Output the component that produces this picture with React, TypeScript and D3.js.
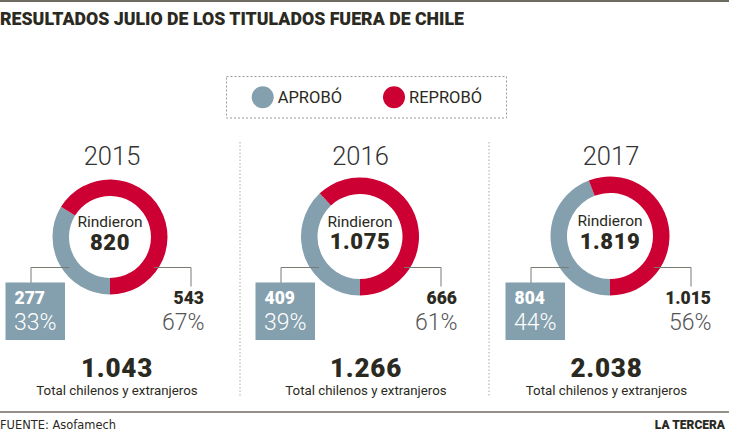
import React from "react";
import * as d3 from "d3";

const years = ["2015", "2016", "2017"];
const aprobo = [277, 409, 804];
const reprobo = [543, 666, 1015];
const rindieron = [820, 1075, 1819];
const totals = [1043, 1266, 2038];
const pctAprobo = [33, 39, 44];
const pctReprobo = [67, 61, 56];
const legendLabels = ["APROBÓ", "REPROBÓ"];

const title = "RESULTADOS JULIO DE LOS TITULADOS FUERA DE CHILE";
const source = "FUENTE: Asofamech";
const brand = "LA TERCERA";
const totalLabel = "Total chilenos y extranjeros";
const centerLabel = "Rindieron";

// layout (not data)
const W = 729, H = 433;
const GRAY = "#84a0ae";
const RED = "#cc0033";
const DARK = "#2b2a22";
const panelCx = [110, 360, 610];
const panelCy = [237, 236.5, 236];
const outerR = [57.5, 59, 59.5];
const ringW = 16.5;
const rightEdge = [94, 97, 101];
const totalCx = [117, 366, 606.5];
const yearCx = [112, 360.5, 611];

const loc = d3.formatLocale({ decimal: ",", thousands: ".", grouping: [3], currency: ["$", ""] });
const fmt = loc.format(",d");

const SANS = "Roboto, 'Open Sans', sans-serif";
const COND = "'Liberation Sans Narrow', 'DejaVu Sans Condensed', 'Noto Sans', sans-serif";

export default function App() {
  const pie = d3.pie<number>().sort(null).startAngle(Math.PI).endAngle(3 * Math.PI);
  const color = d3.scaleOrdinal<number, string>().domain([0, 1]).range([GRAY, RED]);
  const legendX = d3.scalePoint<string>().domain(legendLabels).range([262.7, 394]);

  return (
    <svg width={W} height={H} viewBox={`0 0 ${W} ${H}`}
      style={{ position: "absolute", left: 0, top: 0, display: "block", background: "#fff" }}>
      <rect x={0} y={0} width={W} height={H} fill="#fff" />
      <line x1={0} x2={W} y1={1} y2={1} stroke="#6e6b60" strokeWidth={2} />
      <text x={0} y={25} fontFamily={SANS} fontWeight={900} fontSize={18} fill={DARK}
        textLength={464} lengthAdjust="spacingAndGlyphs">{title}</text>

      {/* legend */}
      <rect x={226.5} y={76.5} width={280} height={41.5} fill="none" stroke="#9a9a9a"
        strokeWidth={1} strokeDasharray="2,2" />
      {legendLabels.map((l, i) => (
        <g key={l}>
          <circle cx={legendX(l)} cy={97.3} r={11} fill={color(i)} />
          <text x={(legendX(l) as number) + 15} y={103.3} fontFamily={SANS} fontSize={16.5}
            fontWeight={400} fill={DARK}>{l}</text>
        </g>
      ))}

      {/* separators */}
      {[240, 489].map((x) => (
        <line key={x} x1={x} x2={x} y1={142} y2={397} stroke="#a8a8a8" strokeWidth={1}
          strokeDasharray="1.5,2" />
      ))}

      {years.map((yr, i) => {
        const cx = panelCx[i], cy = panelCy[i];
        const R = outerR[i];
        const arc = d3.arc<d3.PieArcDatum<number>>().outerRadius(R).innerRadius(R - ringW);
        const arcs = pie([aprobo[i], reprobo[i]]);
        const ly = 267.5;
        return (
          <g key={yr}>
            <text x={yearCx[i]} y={165} textAnchor="middle" fontFamily={SANS} fontWeight={300}
              fontSize={25.5} fill="#333">{yr}</text>
            <g transform={`translate(${cx},${cy})`}>
              {arcs.map((a, j) => (
                <path key={j} d={arc(a) || ""} fill={color(j)} />
              ))}
              <text x={0} y={-10} textAnchor="middle" fontFamily={SANS} fontSize={15.5}
                fill={DARK}>{centerLabel}</text>
              <text x={0} y={12.5} textAnchor="middle" fontFamily={SANS} fontWeight={900}
                fontSize={22} letterSpacing={0.6} fill={DARK}>{fmt(rindieron[i])}</text>
            </g>
            {/* leaders */}
            <polyline points={`${cx - 41},${ly} ${cx - 79},${ly} ${cx - 79},${283}`}
              fill="none" stroke="#7a7a72" strokeWidth={1} />
            <polyline points={`${cx + 44},${ly} ${cx + 81},${ly} ${cx + 81},${286.5}`}
              fill="none" stroke="#7a7a72" strokeWidth={1} />
            {/* aprobó box */}
            <rect x={cx - 104.5} y={282.5} width={59.5} height={57.5} fill={GRAY} />
            <text x={cx - 95.5} y={304.3} fontFamily={SANS} fontWeight={900} fontSize={17.5}
              fill="#fff">{fmt(aprobo[i])}</text>
            <text x={cx - 96} y={330} fontFamily={SANS} fontWeight={300} fontSize={23}
              fill="#fff">{pctAprobo[i]}%</text>
            {/* reprobó */}
            <text x={cx + rightEdge[i]} y={304.3} textAnchor="end" fontFamily={SANS} fontWeight={900}
              fontSize={17.5} fill={DARK}>{fmt(reprobo[i])}</text>
            <text x={cx + rightEdge[i] + 0.5} y={330} textAnchor="end" fontFamily={SANS} fontWeight={300}
              fontSize={23} fill="#555">{pctReprobo[i]}%</text>
            {/* totals */}
            <text x={totalCx[i]} y={376.7} textAnchor="middle" fontFamily={SANS} fontWeight={900}
              fontSize={26} letterSpacing={0.8} fill={DARK}>{fmt(totals[i])}</text>
            <text x={totalCx[i]} y={395} textAnchor="middle" fontFamily={SANS} fontWeight={400}
              fontSize={13.3} fill={DARK}>{totalLabel}</text>
          </g>
        );
      })}

      <line x1={0} x2={W} y1={412} y2={412} stroke="#6e6b60" strokeWidth={1.5} />
      <text x={0} y={429} fontFamily={COND} fontSize={13} fill={DARK}
        textLength={116} lengthAdjust="spacingAndGlyphs">{source}</text>
      <text x={725} y={429} textAnchor="end" fontFamily={SANS} fontWeight={900} fontSize={12}
        fill={DARK}>{brand}</text>
    </svg>
  );
}
